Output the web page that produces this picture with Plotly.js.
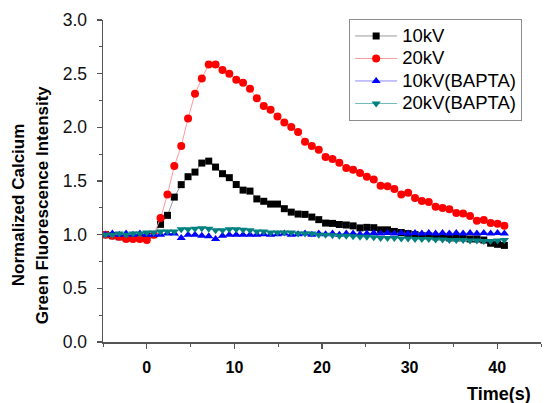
<!DOCTYPE html>
<html>
<head>
<meta charset="utf-8">
<script src="https://cdn.plot.ly/plotly-3.0.1.min.js"></script>
<style>html,body{margin:0;padding:0;background:#fff;}#chart{width:544px;height:403px;}</style>
</head>
<body>
<div id="chart"></div>
<script>
const time = [-4.71, -3.93, -3.14, -2.36, -1.57, -0.79, 0, 0.79, 1.57, 2.36, 3.14, 3.93, 4.71, 5.50, 6.28, 7.07, 7.85, 8.64, 9.42, 10.21, 10.99, 11.78, 12.56, 13.35, 14.13, 14.92, 15.70, 16.49, 17.27, 18.06, 18.84, 19.63, 20.41, 21.20, 21.98, 22.77, 23.55, 24.34, 25.12, 25.91, 26.69, 27.48, 28.26, 29.05, 29.83, 30.62, 31.40, 32.19, 32.97, 33.76, 34.54, 35.33, 36.11, 36.90, 37.68, 38.47, 39.25, 40.04, 40.82];

const kv10 = [1.0, 0.99, 0.98, 0.97, 0.97, 0.98, 0.99, 1.0, 1.096, 1.18, 1.35, 1.466, 1.54, 1.583, 1.667, 1.685, 1.63, 1.568, 1.531, 1.467, 1.415, 1.406, 1.333, 1.311, 1.285, 1.285, 1.242, 1.21, 1.192, 1.189, 1.164, 1.14, 1.108, 1.105, 1.095, 1.09, 1.082, 1.063, 1.068, 1.065, 1.045, 1.045, 1.03, 1.02, 1.01, 1.0, 0.99, 0.99, 0.98, 0.98, 0.97, 0.97, 0.97, 0.96, 0.96, 0.95, 0.92, 0.91, 0.90];

const kv20 = [1.0, 0.99, 0.98, 0.96, 0.96, 0.96, 0.95, 1.0, 1.155, 1.375, 1.64, 1.825, 2.083, 2.313, 2.455, 2.586, 2.586, 2.533, 2.499, 2.443, 2.415, 2.359, 2.272, 2.198, 2.164, 2.101, 2.046, 2.002, 1.956, 1.866, 1.825, 1.791, 1.723, 1.704, 1.670, 1.620, 1.605, 1.574, 1.540, 1.515, 1.456, 1.450, 1.425, 1.375, 1.391, 1.341, 1.313, 1.304, 1.260, 1.248, 1.236, 1.201, 1.198, 1.173, 1.130, 1.136, 1.108, 1.102, 1.083];

const kv10Bapta = [1.0, 1.01, 1.0, 1.01, 1.0, 1.01, 1.0, 1.0, 1.0, 1.01, 1.01, 0.97, 1.0, 1.0, 0.99, 0.985, 0.96, 0.99, 1.0, 1.0, 1.0, 1.0, 1.0, 1.005, 1.0, 1.005, 1.01, 1.0, 1.005, 1.01, 1.0, 1.01, 1.005, 1.01, 1.0, 1.01, 1.01, 1.005, 1.01, 1.015, 1.01, 1.015, 1.01, 1.015, 1.01, 1.015, 1.01, 1.015, 1.01, 1.015, 1.01, 1.015, 1.01, 1.015, 1.01, 1.015, 1.01, 1.015, 1.01];

const kv20Bapta = [1.0, 1.0, 1.01, 1.0, 1.01, 1.01, 1.02, 1.02, 1.03, 1.03, 1.03, 1.05, 1.05, 1.055, 1.06, 1.055, 1.04, 1.04, 1.05, 1.05, 1.045, 1.04, 1.03, 1.03, 1.02, 1.02, 1.02, 1.02, 1.01, 1.01, 1.01, 1.0, 1.0, 0.995, 0.99, 0.99, 0.985, 0.98, 0.98, 0.975, 0.97, 0.97, 0.97, 0.965, 0.965, 0.96, 0.96, 0.96, 0.955, 0.955, 0.95, 0.95, 0.95, 0.945, 0.945, 0.94, 0.94, 0.945, 0.95];

const seriesNames = ["10kV", "20kV", "10kV(BAPTA)", "20kV(BAPTA)"];
const xTitle = "Time(s)";
const yTitleLine1 = "Normalized Calcium";
const yTitleLine2 = "Green Fluorescence Intensity";

const FONT = "Liberation Sans, Arial, sans-serif";
const big = s => '<span style="font-size:18.5px">' + s + '</span>';

const traces = [
  {x: time, y: kv10, name: big(seriesNames[0]), mode: "lines+markers",
   line: {color: "#9a9a9a", width: 1},
   marker: {symbol: "square", size: 7, color: "#000000"}},
  {x: time, y: kv20, name: big(seriesNames[1]), mode: "lines+markers",
   line: {color: "#ff9a9a", width: 1},
   marker: {symbol: "circle", size: 8, color: "#ff0000"}},
  {x: time, y: kv10Bapta, name: big(seriesNames[2]), mode: "lines+markers",
   line: {color: "#8a8aff", width: 1},
   marker: {symbol: "triangle-up", size: 8, color: "#0000ff"}},
  {x: time, y: kv20Bapta, name: big(seriesNames[3]), mode: "lines+markers",
   line: {color: "#6fb8b8", width: 1},
   marker: {symbol: "triangle-down", size: 8, color: "#008080"}}
];

const layout = {
  width: 544, height: 403,
  margin: {l: 103, r: 3, t: 20, b: 61, pad: 0},
  paper_bgcolor: "#ffffff", plot_bgcolor: "#ffffff",
  font: {family: FONT, color: "#000"},
  showlegend: true,
  legend: {
    x: 0.562, y: 1.004, xanchor: "left", yanchor: "top",
    bordercolor: "#8c8c8c", borderwidth: 1, bgcolor: "#ffffff",
    font: {family: FONT, size: 15, color: "#000"},
    itemwidth: 42, tracegroupgap: 0
  },
  xaxis: {
    range: [-5, 45], tickvals: [0, 10, 20, 30, 40],
    showgrid: false, zeroline: false, showline: true,
    linecolor: "#555555", linewidth: 1.5,
    ticks: "outside", ticklen: 5, tickwidth: 1.2, tickcolor: "#555555",
    minor: {tickvals: [-5, 5, 15, 25, 35, 45], ticks: "outside", ticklen: 3, tickwidth: 1, tickcolor: "#555555"},
    tickfont: {family: FONT, size: 16, weight: "bold", color: "#000"},
    ticklabelstandoff: 5
  },
  yaxis: {
    range: [0, 3.0], dtick: 0.5, tickformat: ".1f",
    showgrid: false, zeroline: false, showline: true,
    linecolor: "#555555", linewidth: 1.5,
    ticks: "outside", ticklen: 5, tickwidth: 1.2, tickcolor: "#555555",
    minor: {dtick: 0.25, ticks: "outside", ticklen: 3, tickwidth: 1, tickcolor: "#555555"},
    tickfont: {family: FONT, size: 17.5, color: "#111"},
    ticklabelstandoff: 6
  },
  annotations: [
    {text: yTitleLine1, xref: "paper", yref: "paper", x: -0.194, y: 0.425,
     xanchor: "center", yanchor: "middle", textangle: -90, showarrow: false,
     font: {family: FONT, size: 17, weight: "bold", color: "#000"}},
    {text: yTitleLine2, xref: "paper", yref: "paper", x: -0.139, y: 0.425,
     xanchor: "center", yanchor: "middle", textangle: -90, showarrow: false,
     font: {family: FONT, size: 17, weight: "bold", color: "#000"}},
    {text: xTitle, xref: "paper", yref: "paper", x: 0.982, y: -0.16,
     xanchor: "right", yanchor: "middle", showarrow: false,
     font: {family: FONT, size: 18, weight: "bold", color: "#000"}}
  ]
};

Plotly.newPlot("chart", traces, layout, {displayModeBar: false, staticPlot: true});
</script>
</body>
</html>
